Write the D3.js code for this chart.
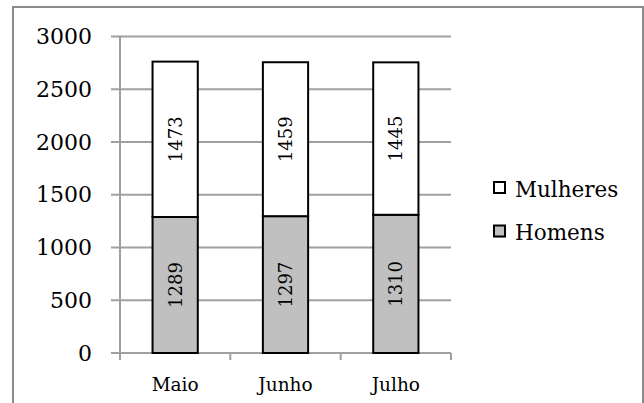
<!DOCTYPE html>
<html><head><meta charset="utf-8">
<script src="https://cdn.jsdelivr.net/npm/d3@7"></script>
<style>body{margin:0;background:#fff}svg{display:block}text{font-family:"DejaVu Serif",serif;fill:#000}</style>
</head><body><svg id="c" width="644" height="403"></svg>
<script>
const categories = ["Maio","Junho","Julho"];
const seriesNames = ["Homens","Mulheres"];
const homens = [1289,1297,1310];
const mulheres = [1473,1459,1445];
const yTicks = [0,500,1000,1500,2000,2500,3000];
const colors = {Homens:"#c0c0c0", Mulheres:"#ffffff"};

const svg = d3.select("#c");
// outer frame
svg.append("rect").attr("x",13).attr("y",7).attr("width",630).attr("height",420)
  .attr("fill","none").attr("stroke","#8c8c8c").attr("stroke-width",2);

const x = d3.scaleBand().domain(categories).range([120,451]).paddingInner(0.59).paddingOuter(0.295);
const y = d3.scaleLinear().domain([0,3000]).range([353,36.5]);

const rows = categories.map((c,i)=>({cat:c, Homens:homens[i], Mulheres:mulheres[i]}));
const stack = d3.stack().keys(seriesNames)(rows);

// gridlines
svg.append("g").selectAll("line").data(yTicks).join("line")
  .attr("x1",111).attr("x2",451).attr("y1",d=>y(d)).attr("y2",d=>y(d))
  .attr("stroke","#a0a0a0").attr("stroke-width",2);
// y axis line
svg.append("line").attr("x1",120).attr("x2",120).attr("y1",y(3000)).attr("y2",y(0))
  .attr("stroke","#a0a0a0").attr("stroke-width",2);
// x ticks
const bounds = [120, ...categories.map(c=>x(c)+x.bandwidth()+x.step()*x.paddingInner()/2)];
svg.append("g").selectAll("line").data(bounds).join("line")
  .attr("x1",d=>d).attr("x2",d=>d).attr("y1",y(0)).attr("y2",y(0)+7)
  .attr("stroke","#a0a0a0").attr("stroke-width",2);
// y labels
svg.append("g").selectAll("text").data(yTicks).join("text")
  .attr("x",92).attr("y",d=>y(d)).attr("text-anchor","end").attr("dominant-baseline","central")
  .style("font-size","22px").text(d=>d);

// bars
stack.forEach(s=>{
  const g = svg.append("g");
  g.selectAll("rect").data(s).join("rect")
    .attr("x",d=>x(d.data.cat)).attr("width",x.bandwidth())
    .attr("y",d=>y(d[1])).attr("height",d=>y(d[0])-y(d[1]))
    .attr("fill",colors[s.key]).attr("stroke","#000").attr("stroke-width",2);
  g.selectAll("text").data(s).join("text")
    .attr("transform",d=>`translate(${x(d.data.cat)+x.bandwidth()/2},${(y(d[0])+y(d[1]))/2}) rotate(-90)`)
    .attr("text-anchor","middle").attr("dominant-baseline","central")
    .style("font-size","18px").text(d=>d.data[s.key]);
});
// category labels
svg.append("g").selectAll("text").data(categories).join("text")
  .attr("x",d=>x(d)+x.bandwidth()/2).attr("y",391).attr("text-anchor","middle")
  .style("font-size","18.5px").text(d=>d);

// legend
const legendItems = ["Mulheres","Homens"];
const lg = svg.append("g").selectAll("g").data(legendItems).join("g")
  .attr("transform",(d,i)=>`translate(494,${182+i*43.5})`);
lg.append("rect").attr("x",1).attr("y",1).attr("width",11).attr("height",11).attr("fill","#9a9a9a").attr("opacity",d=>d==="Homens"?0.6:0);
lg.append("rect").attr("width",11).attr("height",11).attr("fill",d=>colors[d]).attr("stroke","#000").attr("stroke-width",2);
lg.append("text").attr("x",21).attr("y",14.5).style("font-size","21.5px").text(d=>d);
</script></body></html>
